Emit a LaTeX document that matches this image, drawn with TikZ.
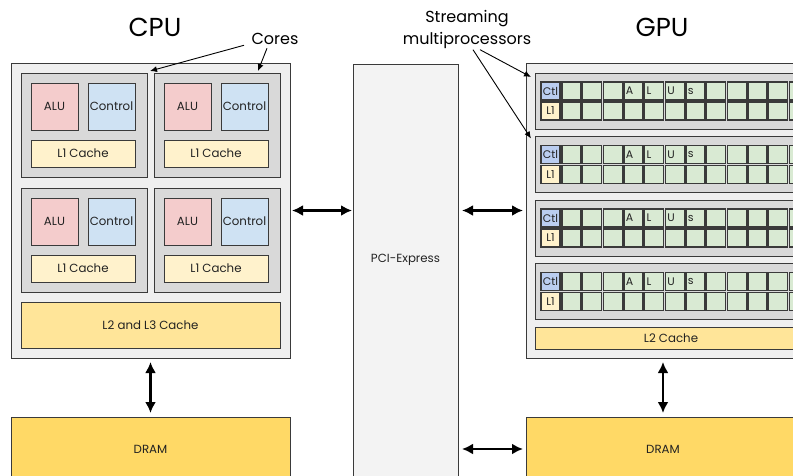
\documentclass[tikz,border=0pt]{standalone}
\usepackage{fontspec}
\setmainfont{Poppins}
\usetikzlibrary{arrows.meta,calc}
\definecolor{outerc}{HTML}{EFEFEF}
\definecolor{corec}{HTML}{D9D9D9}
\definecolor{aluc}{HTML}{F4CCCC}
\definecolor{ctrlc}{HTML}{CFE2F3}
\definecolor{lonec}{HTML}{FFF2CC}
\definecolor{ltwoc}{HTML}{FFE599}
\definecolor{dramc}{HTML}{FFD966}
\definecolor{cellc}{HTML}{D9EAD3}
\definecolor{ctlc}{HTML}{BACDF0}
\definecolor{pcic}{HTML}{F3F3F3}
\definecolor{edgec}{HTML}{3A3A3A}
\definecolor{txtc}{HTML}{222222}
\newcommand\B[7]{\node[bx,#6,minimum width=#4pt,minimum height=#5pt] (#1) at (#2,#3) {#7};}
\begin{document}
\begin{tikzpicture}[x=1pt,y=-1pt,
  bx/.style={draw=edgec, line width=0.9pt, inner sep=0pt, outer sep=0pt, anchor=north west,
    font=\fontsize{11.8}{13}\selectfont, text=txtc},
  cellbox/.style={fill=cellc, line width=1.3pt, text width=15pt, align=left, inner xsep=2pt, inner ysep=0pt,
    font=\fontsize{11}{12}\selectfont},
  smallbox/.style={line width=1.3pt, font=\fontsize{11}{12}\selectfont},
  bigarrow/.style={{Latex[length=11pt,width=11pt]}-{Latex[length=11pt,width=11pt]}, line width=2.2pt, black},
  thinarrow/.style={-{Latex[length=7pt,width=6pt]}, line width=0.9pt, black},
  title/.style={font=\fontsize{26}{30}\selectfont, text=black},
  lbl/.style={font=\fontsize{16}{22}\selectfont, text=black, align=center}
  ]
\useasboundingbox (0,0) rectangle (793,475);
\clip (0,0) rectangle (793,475);

% titles
\node[title] (cputitle) at (155,27) {CPU};
\node[title] (gputitle) at (662,27) {GPU};
\node[lbl] (cores) at (275,39) {Cores};
\node[lbl, font=\fontsize{16}{22}\selectfont] (sml) at (467,29) {Streaming\\multiprocessors};

% CPU
\B{cpu}{11}{63}{279}{295}{fill=outerc}{}
\foreach \n/\x/\y in {1/21/73, 2/154/73, 3/21/188, 4/154/188}{
  \B{core\n}{\x}{\y}{126}{104}{fill=corec}{}
  \B{alu\n}{\x+10}{\y+10}{47}{47}{fill=aluc}{ALU}
  \B{ctrl\n}{\x+67}{\y+10}{47}{47}{fill=ctrlc}{Control}
  \B{lone\n}{\x+10}{\y+67}{104}{27}{fill=lonec}{L1 Cache}
}
\B{ltwothree}{21}{302}{259}{46}{fill=ltwoc}{L2 and L3 Cache}
\B{cdram}{11}{417}{279}{64}{fill=dramc}{DRAM}

% PCI
\B{pci}{353}{64}{105}{420}{fill=pcic}{}
\node[font=\fontsize{11.8}{13}\selectfont, text=txtc] (pcil) at (405.5,260) {PCI-Express};

% GPU
\B{gpu}{526}{63}{290}{295}{fill=outerc}{}
\foreach \k/\t in {1/73, 2/136.5, 3/200, 4/263.5}{
  \B{sm\k}{535}{\t}{290}{56}{fill=corec}{}
  \B{ctl\k}{541}{\t+9}{19}{18}{fill=ctlc,smallbox}{Ctl}
  \B{gl\k}{541}{\t+29}{19}{18}{fill=lonec,smallbox}{L1}
  \foreach \i/\lab in {0/,1/,2/,3/A,4/L,5/U,6/s,7/,8/,9/,10/,11/}{
    \B{a\k c\i}{562+20.65*\i}{\t+9}{19}{18}{cellbox}{\lab}
    \B{b\k c\i}{562+20.65*\i}{\t+29}{19}{18}{cellbox}{}
  }
}
\B{gltwo}{535}{327}{272}{22}{fill=ltwoc}{L2 Cache}
\B{gdram}{526}{417}{274}{64}{fill=dramc}{DRAM}

% connectors
\draw[bigarrow, shorten <=2pt, shorten >=1pt] (cpu.east) -- (pci.west |- cpu.east);
\draw[bigarrow, shorten <=4pt, shorten >=3pt] (pci.east |- gpu.west) -- (gpu.west);
\draw[bigarrow, shorten <=4pt, shorten >=3pt] (pci.east |- gdram.west) -- (gdram.west);
\draw[bigarrow, shorten <=4pt, shorten >=4pt] (cpu.south) -- (cpu.south |- cdram.north);
\draw[bigarrow, shorten <=4pt, shorten >=4pt] (gdram.north |- gpu.south) -- (gdram.north);

\coordinate (c1) at ($(cores.south west)+(-4,-3)$);
\coordinate (c2) at ($(cores.south)+(-8,0)$);
\draw[thinarrow] (c1) -- ($(core1.north east)+(3,-2)$);
\draw[thinarrow] (c2) -- ($(core2.north east)+(-22,-2)$);

\coordinate (s1) at ($(sml.south)+(13,-2)$);
\coordinate (s2) at ($(sml.south)+(6,-2)$);
\draw[thinarrow] (s1) -- ($(sm1.north west)+(-4,4)$);
\draw[thinarrow] (s2) -- ($(sm2.north west)+(-4,2)$);
\end{tikzpicture}
\end{document}
